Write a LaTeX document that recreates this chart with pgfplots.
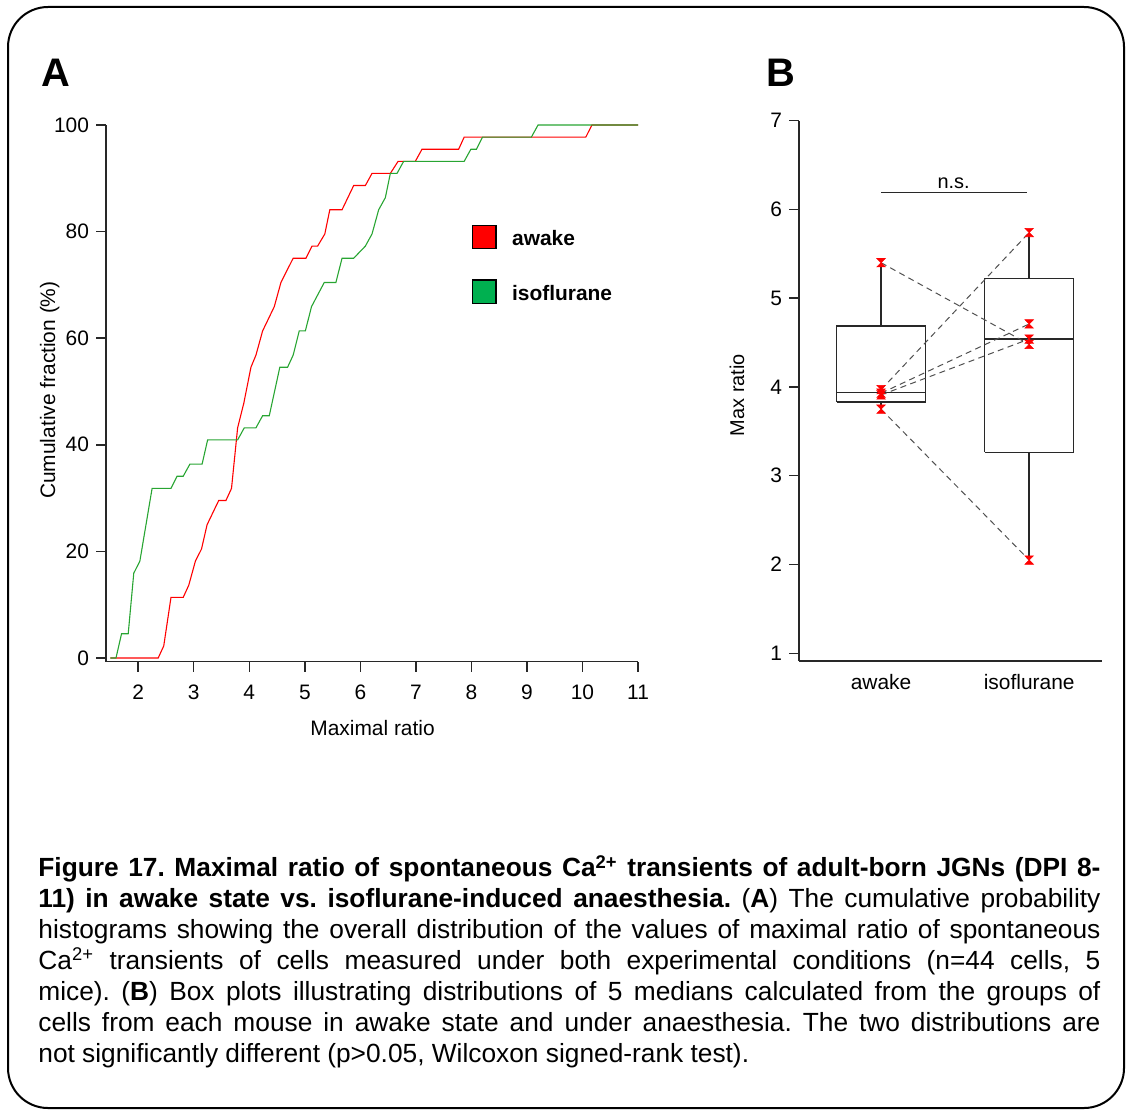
\documentclass[border=0pt]{standalone}
\usepackage{fontspec}
\setmainfont{Liberation Sans}
\usepackage{pgfplots}
\pgfplotsset{compat=1.18}
\pgfdeclareplotmark{hourglass}{%
 \pgfpathmoveto{\pgfqpoint{-\pgfplotmarksize}{\pgfplotmarksize}}%
 \pgfpathlineto{\pgfqpoint{\pgfplotmarksize}{\pgfplotmarksize}}%
 \pgfpathlineto{\pgfqpoint{-\pgfplotmarksize}{-\pgfplotmarksize}}%
 \pgfpathlineto{\pgfqpoint{\pgfplotmarksize}{-\pgfplotmarksize}}%
 \pgfpathclose\pgfusepathqfillstroke}
\definecolor{awakered}{RGB}{255,0,0}
\definecolor{isogreen}{RGB}{0,176,80}
\definecolor{isoline}{RGB}{40,165,50}
\definecolor{axgray}{RGB}{40,40,40}
\definecolor{dashgray}{RGB}{80,80,80}
\pgfplotsset{
 myaxis/.style={scale only axis, axis x line=bottom, axis y line=left,
  axis line style={-, line width=0.75bp, axgray},
  tick style={line width=0.75bp, axgray}, tick align=outside, major tick length=5bp,
  /pgf/number format/assume math mode=true,
  tick label style={font=\fontsize{10.5}{12}\selectfont},
  label style={font=\fontsize{10.5}{12}\selectfont}, clip=false},
 boxline/.style={axgray, line width=0.7bp, forget plot}
}
\begin{document}
\begin{tikzpicture}[x=0.5bp,y=0.5bp]
\useasboundingbox (0,0) rectangle (1126,1110);
\draw[line width=1bp, black, rounded corners=20bp] (8,2) rectangle (1124,1103);
\node[anchor=base west, inner sep=0pt, font=\bfseries\fontsize{20}{24}\selectfont] at (41,1023) {A};
\node[anchor=base west, inner sep=0pt, font=\bfseries\fontsize{20}{24}\selectfont] at (766,1023) {B};

% Panel A
\begin{axis}[myaxis, at={(53bp,224.15bp)}, anchor=south west, width=266bp, height=268.35bp,
  xmin=1.42, xmax=11, ymin=-0.7, ymax=100,
  xtick={2,3,4,5,6,7,8,9,10,11}, ytick={0,20,40,60,80,100},
  xticklabel style={yshift=-3bp},
  xlabel={Maximal ratio}, ylabel={Cumulative fraction (\%)},
  xlabel style={at={(axis description cs:0.501,-0.1235)}, anchor=center},
  ylabel style={at={(axis description cs:-0.106,0.506)}, anchor=center},
  legend image code/.code={\draw[#1] (0bp,-4.65bp) rectangle (11.65bp,7bp);},
  legend style={at={(axis description cs:0.688,0.8137)}, anchor=north west, draw=none, fill=none,
    inner sep=0pt, outer sep=0pt, row sep=13.35bp,
    font=\bfseries\fontsize{10.5}{12}\selectfont},
  legend cell align=left,
  /tikz/every odd column/.style={column sep=5.8bp}]
\addplot[awakered, line width=0.55bp, forget plot] coordinates {
(1.5,0) (2.36,0) (2.46,2.27) (2.59,11.36) (2.81,11.36) (2.91,13.64) (3.03,18.18) (3.14,20.45)
(3.24,25.0) (3.45,29.55) (3.58,29.55) (3.68,31.82) (3.79,43.18) (3.90,47.73) (4.03,54.55)
(4.12,56.82) (4.24,61.36) (4.45,65.91) (4.57,70.45) (4.79,75) (5.02,75) (5.13,77.27) (5.23,77.27)
(5.36,79.55) (5.45,84.09) (5.67,84.09) (5.88,88.64) (6.09,88.64) (6.21,90.91) (6.54,90.91)
(6.68,93.18) (6.99,93.18) (7.11,95.45) (7.77,95.45) (7.87,97.73) (10.06,97.73) (10.17,100) (11,100)};
\addplot[isoline, line width=0.55bp, forget plot] coordinates {
(1.5,0) (1.60,0) (1.70,4.55) (1.82,4.55) (1.92,15.91) (2.03,18.18) (2.25,31.82) (2.59,31.82)
(2.70,34.09) (2.81,34.09) (2.93,36.36) (3.15,36.36) (3.25,40.91) (3.79,40.91) (3.91,43.18)
(4.12,43.18) (4.24,45.45) (4.36,45.45) (4.55,54.55) (4.69,54.55) (4.79,56.82) (4.90,61.36)
(5.01,61.36) (5.12,65.91) (5.35,70.45) (5.56,70.45) (5.67,75) (5.88,75) (6.09,77.27) (6.21,79.55)
(6.33,84.09) (6.45,86.36) (6.54,90.91) (6.66,90.91) (6.78,93.18) (7.87,93.18) (7.99,95.45)
(8.09,95.45) (8.20,97.73) (9.08,97.73) (9.20,100) (11,100)};
\addlegendimage{fill=awakered, draw=black, line width=0.6bp}
\addlegendentry{awake}
\addlegendimage{fill=isogreen, draw=black, line width=0.6bp}
\addlegendentry{isoflurane}
\end{axis}

% Panel B
\begin{axis}[myaxis, at={(399.5bp,224.5bp)}, anchor=south west, width=151.35bp, height=270.15bp,
  xmin=0.446, xmax=2.49, ymin=0.913, ymax=7,
  xtick={1,2}, xticklabels={awake,isoflurane}, ytick={1,2,3,4,5,6,7},
  major x tick style={draw=none}, xticklabel style={yshift=2bp},
  ylabel={Max ratio},
  ylabel style={at={(axis description cs:-0.205,0.492)}, anchor=center, font=\fontsize{10}{12}\selectfont}]
% awake box
\addplot[boxline] coordinates {(0.7,3.83) (1.3,3.83) (1.3,4.685) (0.7,4.685) (0.7,3.83)};
\addplot[boxline] coordinates {(0.7,3.94) (1.3,3.94)};
\addplot[boxline] coordinates {(1,4.685) (1,5.40)};
\addplot[boxline] coordinates {(1,3.83) (1,3.75)};
% isoflurane box
\addplot[boxline] coordinates {(1.7,3.265) (2.3,3.265) (2.3,5.225) (1.7,5.225) (1.7,3.265)};
\addplot[boxline] coordinates {(1.7,4.54) (2.3,4.54)};
\addplot[boxline] coordinates {(2,5.225) (2,5.74)};
\addplot[boxline] coordinates {(2,3.265) (2,2.05)};
% paired medians
\addplot[dashgray, line width=0.5bp, dash pattern=on 3bp off 2.2bp] coordinates {(1,5.40) (2,4.48)};
\addplot[dashgray, line width=0.5bp, dash pattern=on 3bp off 2.2bp] coordinates {(1,3.97) (2,5.74)};
\addplot[dashgray, line width=0.5bp, dash pattern=on 3bp off 2.2bp] coordinates {(1,3.93) (2,4.71)};
\addplot[dashgray, line width=0.5bp, dash pattern=on 3bp off 2.2bp] coordinates {(1,3.91) (2,4.54)};
\addplot[dashgray, line width=0.5bp, dash pattern=on 3bp off 2.2bp] coordinates {(1,3.75) (2,2.05)};
\addplot[only marks, mark=hourglass, mark size=2.1bp, draw=awakered, fill=awakered, line width=0.3bp]
  coordinates {(1,5.40) (1,3.97) (1,3.93) (1,3.91) (1,3.75) (2,5.74) (2,4.71) (2,4.54) (2,4.48) (2,2.05)};
\addplot[axgray, line width=0.75bp] coordinates {(1,6.19) (1.985,6.19)};
\node[anchor=south, inner sep=1.5bp, font=\fontsize{10}{12}\selectfont] at (axis cs:1.49,6.19) {n.s.};
\end{axis}

\node[anchor=north west, inner sep=0pt, text width=531bp, align=justify,
  font=\fontsize{13.2}{15.5}\selectfont] at (38,255) {\frenchspacing%
\textbf{Figure 17. Maximal ratio of spontaneous Ca\textsuperscript{2+} transients of adult-born JGNs (DPI 8-}\linebreak
\textbf{11) in awake state vs. isoflurane-induced anaesthesia.} (\textbf{A}) The cumulative probability\linebreak
histograms showing the overall distribution of the values of maximal ratio of spontaneous\linebreak
Ca\textsuperscript{2+} transients of cells measured under both experimental conditions (n=44 cells, 5\linebreak
mice). (\textbf{B}) Box plots illustrating distributions of 5 medians calculated from the groups of\linebreak
cells from each mouse in awake state and under anaesthesia. The two distributions are\linebreak
not significantly different (p>0.05, Wilcoxon signed-rank test).};
\end{tikzpicture}
\end{document}
